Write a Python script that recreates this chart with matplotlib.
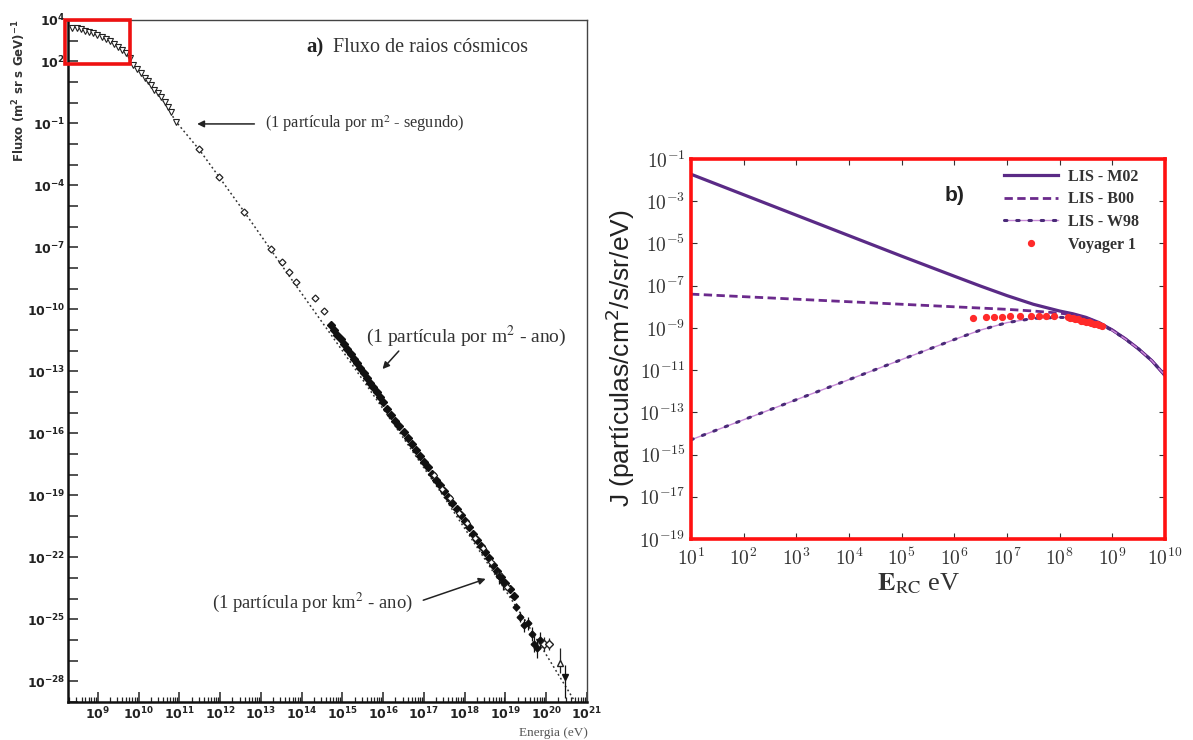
import numpy as np
import matplotlib
matplotlib.use("Agg")
import matplotlib.pyplot as plt
from matplotlib.patches import Rectangle
from matplotlib.ticker import FixedLocator, FuncFormatter, LogLocator, NullLocator, NullFormatter

plt.rcParams['mathtext.fontset'] = 'cm'

# panel a: all-particle cosmic ray flux, stored as log10(E / eV), log10(flux)
tri_loge = [8.38, 8.48, 8.58, 8.69, 8.79, 8.89, 8.99, 9.10, 9.20, 9.30, 9.40, 9.50, 9.60,
            9.70, 9.78, 9.86, 9.96, 10.07, 10.15, 10.23, 10.31, 10.39, 10.47, 10.56, 10.64,
            10.72, 10.80, 10.92]
tri_logf = [3.63, 3.60, 3.55, 3.49, 3.42, 3.35, 3.27, 3.18, 3.08, 2.97, 2.85, 2.71, 2.55,
            2.39, 2.15, 1.82, 1.65, 1.45, 1.20, 1.05, 0.85, 0.62, 0.47, 0.29, 0.05,
            -0.20, -0.45, -0.92]

dia_loge = [11.48, 11.97, 12.58, 13.25, 13.53, 13.69, 13.86, 14.33, 14.55]
dia_logf = [-2.26, -3.58, -5.31, -7.08, -7.70, -8.18, -8.70, -9.46, -10.10]

dense_loge = [14.72, 14.80, 14.88, 14.96, 15.04, 15.12, 15.20, 15.28, 15.36, 15.44, 15.52,
              15.60, 15.68, 15.76, 15.84, 15.92, 16.00, 16.10, 16.20, 16.30, 16.40, 16.50,
              16.60, 16.70, 16.80, 16.90, 17.00, 17.10, 17.20, 17.30, 17.40, 17.50, 17.60,
              17.70, 17.80, 17.90, 18.00, 18.10, 18.20, 18.30, 18.40, 18.50, 18.60, 18.70,
              18.80, 18.90, 19.00, 19.10, 19.20]
dense_logf = [-10.75, -11.00, -11.25, -11.45, -11.70, -11.90, -12.15, -12.40, -12.60, -12.85,
              -13.10, -13.30, -13.55, -13.75, -14.00, -14.25, -14.50, -14.80, -15.10, -15.40,
              -15.65, -15.95, -16.25, -16.50, -16.80, -17.10, -17.40, -17.65, -17.95, -18.25,
              -18.50, -18.80, -19.10, -19.35, -19.65, -19.95, -20.25, -20.55, -20.85, -21.15,
              -21.45, -21.75, -22.05, -22.35, -22.65, -22.95, -23.25, -23.55, -23.85]

# second experiment, slightly scattered about the first
extra_loge = [17.25, 17.45, 17.65, 17.85, 18.05, 18.25, 18.45, 18.65, 18.85, 19.05]
extra_logf = [-18.00, -18.70, -19.15, -19.85, -20.35, -21.05, -21.55, -22.25, -22.80, -23.45]

# highest energies, with error bars (log10 of lower / upper flux)
tail_loge = [18.85, 18.95, 19.25, 19.35, 19.45, 19.55, 19.65, 19.70, 19.78, 19.85]
tail_logf = [-22.90, -23.20, -24.40, -24.90, -25.30, -25.20, -25.70, -26.20, -26.40, -26.00]
tail_lo = [-23.30, -23.60, -24.60, -25.15, -25.60, -25.50, -26.05, -26.60, -26.85, -26.40]
tail_hi = [-22.60, -22.90, -24.20, -24.65, -25.00, -24.90, -25.35, -25.80, -25.95, -25.60]

open_tail_loge = [19.95, 20.08]
open_tail_logf = [-26.20, -26.20]
open_tail_lo = [-26.55, -26.50]
open_tail_hi = [-25.85, -25.90]

top_tri_loge = [20.33]
top_tri_logf = [-27.10]
top_tri_lo = [-27.60]
top_tri_hi = [-26.40]

last_loge = [20.47]
last_logf = [-27.80]
last_lo = [-28.80]
last_hi = [-27.20]

# dotted power-law guide
fit_loge = [10.60, 10.92, 11.50, 12.60, 13.70, 15.00, 16.40, 17.50, 18.50, 19.50, 20.71]
fit_logf = [0.10, -0.92, -2.30, -5.30, -8.40, -12.00, -15.95, -19.10, -22.10, -25.10, -29.00]

flux_labels = [4, 2, -1, -4, -7, -10, -13, -16, -19, -22, -25, -28]

# panel b: local interstellar spectra, log10(E / eV), log10(J)
lis_loge = [1, 2, 3, 4, 5, 6, 6.5, 7, 7.5, 8, 8.25, 8.5, 8.75, 9, 9.25, 9.5, 9.75, 10]
m02 = [-1.72, -2.69, -3.66, -4.63, -5.60, -6.55, -7.02, -7.47, -7.88, -8.20, -8.33, -8.50,
       -8.75, -9.10, -9.52, -10.00, -10.55, -11.25]
b00 = [-7.40, -7.52, -7.64, -7.76, -7.88, -8.00, -8.06, -8.12, -8.20, -8.30, -8.38, -8.52,
       -8.76, -9.10, -9.52, -10.00, -10.55, -11.25]
w98 = [-14.30, -13.35, -12.40, -11.45, -10.50, -9.55, -9.10, -8.75, -8.55, -8.50, -8.52, -8.60,
       -8.80, -9.12, -9.53, -10.00, -10.55, -11.25]

voy_loge = [6.35, 6.60, 6.75, 6.90, 7.05, 7.25, 7.45, 7.60, 7.75, 7.90, 8.15, 8.20, 8.25,
            8.30, 8.35, 8.40, 8.45, 8.50, 8.55, 8.60, 8.65, 8.70, 8.75, 8.80]
voy_logj = [-8.55, -8.50, -8.50, -8.48, -8.45, -8.45, -8.45, -8.45, -8.45, -8.45, -8.50, -8.55,
            -8.52, -8.60, -8.58, -8.65, -8.65, -8.70, -8.72, -8.75, -8.80, -8.82, -8.85, -8.90]


def p10(vals):
    return 10.0 ** np.asarray(vals)


def err(logf, lo, hi):
    f = p10(logf)
    return [f - p10(lo), p10(hi) - f]


fig = plt.figure(figsize=(11.93, 7.40), dpi=100)

# ---------------- panel a ----------------
axa = fig.add_axes([0.0570, 0.0514, 0.4350, 0.9216])
axa.set_xscale('log')
axa.set_yscale('log')

axa.plot(p10(fit_loge), p10(fit_logf), color='#333333', lw=1.1, ls=(0, (1.2, 1.8)), zorder=1)
axa.plot(p10(tri_loge), p10(tri_logf), ls='none', marker='v', ms=5, mfc='white',
         mec='#222222', mew=0.8, zorder=3)
axa.plot(p10(dia_loge), p10(dia_logf), ls='none', marker='D', ms=3.5, mfc='white',
         mec='#222222', mew=0.9, zorder=3)
axa.plot(p10(dense_loge), p10(dense_logf), ls='none', marker='D', ms=3.6, color='#111111',
         zorder=3)
axa.plot(p10(extra_loge), p10(extra_logf), ls='none', marker='D', ms=3.2, mfc='white',
         mec='#222222', mew=0.8, zorder=3)
axa.errorbar(p10(tail_loge), p10(tail_logf), yerr=err(tail_logf, tail_lo, tail_hi), fmt='D',
             ms=3.4, color='#111111', elinewidth=0.9, capsize=0, zorder=3)
axa.errorbar(p10(open_tail_loge), p10(open_tail_logf),
             yerr=err(open_tail_logf, open_tail_lo, open_tail_hi), fmt='D', ms=3.6, mfc='white',
             mec='#222222', color='#222222', elinewidth=0.9, capsize=0, zorder=3)
axa.errorbar(p10(top_tri_loge), p10(top_tri_logf),
             yerr=err(top_tri_logf, top_tri_lo, top_tri_hi), fmt='^', ms=5, mfc='white',
             mec='#222222', color='#222222', elinewidth=0.9, capsize=0, zorder=3)
axa.errorbar(p10(last_loge), p10(last_logf), yerr=err(last_logf, last_lo, last_hi), fmt='v',
             ms=5, color='#111111', elinewidth=0.9, capsize=0, zorder=3)

axa.set_xlim(10 ** 8.27, 1e21)
axa.set_ylim(1e-29, 1e4)

axa.xaxis.set_major_locator(FixedLocator([10.0 ** k for k in range(9, 22)]))
axa.xaxis.set_minor_locator(LogLocator(base=10, subs=range(2, 10), numticks=60))
axa.xaxis.set_minor_formatter(NullFormatter())
axa.xaxis.set_major_formatter(FuncFormatter(
    lambda v, pos: r'$\mathbf{10^{%d}}$' % round(np.log10(v))))
axa.yaxis.set_major_locator(FixedLocator([10.0 ** k for k in range(-29, 5)]))
axa.yaxis.set_minor_locator(NullLocator())
axa.yaxis.set_major_formatter(FuncFormatter(
    lambda v, pos: (r'$\mathbf{10^{%d}}$' % round(np.log10(v)))
    if round(np.log10(v)) in flux_labels else ''))
axa.tick_params(axis='both', which='major', direction='in', length=7, width=1.1,
                labelsize=9, colors='#222222', top=False, right=False)
axa.tick_params(axis='x', which='minor', direction='in', length=3.5, width=0.9,
                top=False, colors='#222222')
axa.tick_params(axis='x', which='major', pad=3)
axa.tick_params(axis='y', which='major', pad=2)
for lab in axa.get_xticklabels() + axa.get_yticklabels():
    lab.set_math_fontfamily('dejavusans')

for side in ['left', 'bottom']:
    axa.spines[side].set_linewidth(1.8)
    axa.spines[side].set_color('#111111')
for side in ['top', 'right']:
    axa.spines[side].set_linewidth(1.0)
    axa.spines[side].set_color('#444444')

axa.add_patch(Rectangle((10 ** 8.19, 10 ** 1.87), 10 ** 9.78 - 10 ** 8.19,
                        1e4 - 10 ** 1.87, fill=False, ec='#ee1111', lw=2.6,
                        clip_on=False, zorder=5))

axa.text(0.4586, 0.959, 'a)', transform=axa.transAxes, ha='left', va='center',
         family='Liberation Serif', weight='bold', fontsize=15, color='#222222')
axa.text(0.5106, 0.959, 'Fluxo de raios cósmicos', transform=axa.transAxes, ha='left',
         va='center', family='Liberation Serif', fontsize=14.5, color='#333333')

axa.annotate('', xy=(10 ** 11.37, 10 ** -1.03), xytext=(10 ** 12.91, 10 ** -1.03),
             arrowprops=dict(arrowstyle='-|>', color='#222222', lw=1.1,
                             mutation_scale=10))
axa.text(10 ** 13.11, 10 ** -1.03, '(1 partícula por m$^2$ - segundo)',
         family='Liberation Serif', fontsize=11.8, color='#333333', ha='left', va='center',
         math_fontfamily='stix')
axa.annotate('', xy=(10 ** 15.94, 10 ** -12.99), xytext=(10 ** 16.43, 10 ** -11.92),
             arrowprops=dict(arrowstyle='-|>', color='#222222', lw=1.1,
                             mutation_scale=10))
axa.text(10 ** 15.58, 10 ** -11.3, '(1 partícula por m$^2$ - ano)',
         family='Liberation Serif', fontsize=14, color='#333333', ha='left', va='center',
         math_fontfamily='stix')
axa.annotate('', xy=(10 ** 18.58, 10 ** -23.0), xytext=(10 ** 16.92, 10 ** -24.12),
             arrowprops=dict(arrowstyle='-|>', color='#222222', lw=1.1,
                             mutation_scale=10))
axa.text(10 ** 16.73, 10 ** -24.2, '(1 partícula por km$^2$ - ano)',
         family='Liberation Serif', fontsize=13.4, color='#333333', ha='right', va='center',
         math_fontfamily='stix')

fig.text(588 / 1193, 1 - 733 / 740, 'Energia (eV)', ha='right', va='center',
         family='Liberation Serif', fontsize=9.5, color='#555555')
fig.text(19 / 1193, 1 - 20 / 740, r'Fluxo (m$^\mathbf{2}$ sr s GeV)$^{\mathbf{-1}}$',
         rotation=90, ha='center', va='top', family='DejaVu Sans', weight='bold',
         fontsize=8.5, color='#333333', math_fontfamily='dejavusans')

# ---------------- panel b ----------------
axb = fig.add_axes([0.5792, 0.2716, 0.3973, 0.5135])
axb.set_xscale('log')
axb.set_yscale('log')

purple = '#5a2a86'
l_m02, = axb.plot(p10(lis_loge), p10(m02), color=purple, lw=2.3, label='LIS - M02')
l_b00, = axb.plot(p10(lis_loge), p10(b00), color='#6b2a8c', lw=2.0, ls=(0, (3, 1.6)),
                  label='LIS - B00')
l_w98a, = axb.plot(p10(lis_loge), p10(w98), color='#c98bd8', lw=1.0)
l_w98b, = axb.plot(p10(lis_loge), p10(w98), color='#4a2a78', lw=2.2, ls=(0, (0.8, 3.2)),
                   dash_capstyle='round')
l_voy, = axb.plot(p10(voy_loge), p10(voy_logj), ls='none', marker='o', ms=4.2,
                  color='#ff2a2a', mec='#ff2a2a', label='Voyager 1', zorder=4)

axb.set_xlim(1e1, 1e10)
axb.set_ylim(1e-19, 1e-1)
axb.xaxis.set_major_locator(FixedLocator([10.0 ** k for k in range(1, 11)]))
axb.yaxis.set_major_locator(FixedLocator([10.0 ** k for k in range(-19, 0, 2)]))
axb.xaxis.set_minor_locator(NullLocator())
axb.yaxis.set_minor_locator(NullLocator())
axb.xaxis.set_major_formatter(FuncFormatter(lambda v, pos: r'$10^{%d}$' % round(np.log10(v))))
axb.yaxis.set_major_formatter(FuncFormatter(lambda v, pos: r'$10^{%d}$' % round(np.log10(v))))
axb.tick_params(axis='both', which='major', direction='in', length=4, width=0.8,
                top=True, right=True, labelsize=14, colors='#333333')
axb.tick_params(axis='x', pad=6)
axb.tick_params(axis='y', pad=4)
for side in axb.spines:
    axb.spines[side].set_linewidth(2.6)
    axb.spines[side].set_color('#ff1010')

axb.legend([l_m02, l_b00, (l_w98a, l_w98b), l_voy],
           ['LIS - M02', 'LIS - B00', 'LIS - W98', 'Voyager 1'],
           loc='upper right', bbox_to_anchor=(0.965, 1.0), frameon=False,
           prop={'family': 'Liberation Serif', 'weight': 'bold', 'size': 11.5},
           handlelength=3.4, handletextpad=0.6, labelspacing=0.42, borderaxespad=0.2,
           labelcolor='#333333')

axb.text(0.536, 0.905, 'b)', transform=axb.transAxes, ha='left', va='center',
         family='Liberation Sans', weight='bold', fontsize=15, color='#222222')

fig.text(620 / 1193, 1 - 358 / 740, 'J (partículas/cm$^2$/s/sr/eV)', rotation=90,
         ha='center', va='center', family='Liberation Sans', fontsize=19, color='#222222',
         math_fontfamily='dejavusans')
fig.text(918 / 1193, 1 - 584 / 740, r'$\mathbf{E}_{\mathrm{RC}}$ eV', ha='center',
         va='center', family='Liberation Serif', fontsize=19, color='#333333',
         math_fontfamily='stix')

fig.savefig('out.png', dpi=100)
